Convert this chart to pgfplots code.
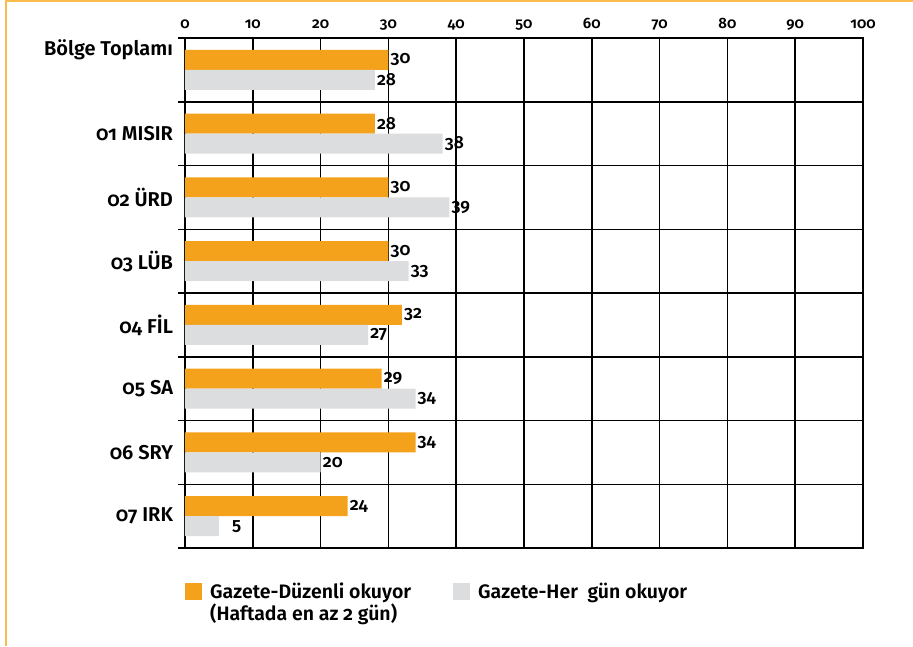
\documentclass[border=0pt]{standalone}
\usepackage{fontspec}
\setmainfont{Fira Sans}[Numbers=OldStyle, BoldFont={Fira Sans SemiBold}]
\usepackage{pgfplots}
\pgfplotsset{compat=1.18}
\definecolor{barorange}{HTML}{F4A11C}
\definecolor{bargray}{HTML}{DCDDDE}
\definecolor{frameorange}{HTML}{FBBC4E}
\begin{document}
\begin{tikzpicture}
\useasboundingbox (0,0) rectangle (913pt,646pt);
\draw[frameorange, line width=2pt] (6pt,0pt) -- (6pt,645pt) -- (913pt,645pt);
\begin{axis}[
  at={(185pt,98pt)}, anchor=south west,
  scale only axis, width=678pt, height=510pt,
  xmin=0, xmax=100, ymin=0.5, ymax=8.5, y dir=reverse,
  xbar, bar width=20pt,
  axis line style={black, line width=1.5pt},
  xtick={0,10,...,100}, xticklabel pos=right, xtick pos=right,
  /pgf/number format/assume math mode=true,
  xmajorgrids,
  major grid style={black, line width=1.5pt},
  minor grid style={black, line width=1.5pt},
  major tick length=0pt,
  ytick={0.69,2,3,4,5,6,7,8},
  yticklabels={Bölge Toplamı\hspace{5pt}, 01 MISIR, 02 ÜRD, 03 LÜB, 04 FİL, 05 SA, 06 SRY, 07 IRK},
  minor ytick={0.5,1.5,...,8.5},
  yminorgrids,
  minor tick length=7pt,
  tick align=outside,
  ytick pos=left,
  minor tick style={black, line width=1.5pt},
  xticklabel style={font=\bfseries\fontsize{15}{15}\selectfont, anchor=base, yshift=10pt},
  yticklabel style={font=\bfseries\fontsize{20}{20}\selectfont, xshift=-8.5pt},
  nodes near coords,
  point meta=explicit symbolic,
  every node near coord/.append style={font=\bfseries\fontsize{17.5}{17}\selectfont, black, anchor=west, inner sep=0pt, xshift=2pt},
  legend style={at={(0,0)}, anchor=north west, xshift=-3pt, yshift=-31pt, draw=none, fill=none,
    font=\bfseries\fontsize{19.5}{18}\selectfont, cells={anchor=base west},
    /tikz/every even column/.append style={column sep=40pt},
    /tikz/every odd column/.append style={column sep=6pt}},
  legend columns=2,
  legend image code/.code={\fill[#1] (0pt,-1pt) rectangle (17pt,16pt);},
  clip=false,
]
\addplot[fill=barorange, draw=none, bar shift=10pt] coordinates {
  (30,1) [30] (28,2) [28] (30,3) [30] (30,4) [30] (32,5) [32] (29,6) [29] (34,7) [34] (24,8) [24]
};
\addlegendentry{\begin{tabular}[t]{@{}l@{}}Gazete-Düzenli okuyor\\(Haftada en az 2 gün)\end{tabular}}
\addplot[fill=bargray, draw=none, bar shift=-10pt] coordinates {
  (28,1) [28] (38,2) [38] (39,3) [39] (33,4) [33] (27,5) [27] (34,6) [34] (20,7) [20] (5,8) [\hspace{11pt}5]
};
\addlegendentry{Gazete-Her\ \ gün okuyor}
\end{axis}
\end{tikzpicture}
\end{document}
